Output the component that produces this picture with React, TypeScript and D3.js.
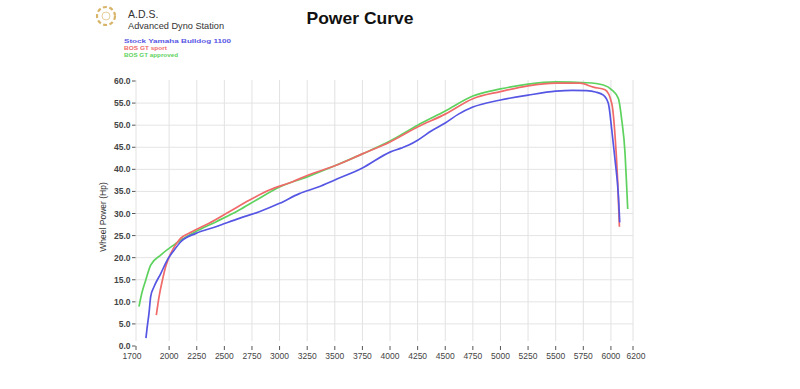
import React from "react";
import * as d3 from "d3";

const xTicks = [1700, 2000, 2250, 2500, 2750, 3000, 3250, 3500, 3750, 4000, 4250, 4500, 4750, 5000, 5250, 5500, 5750, 6000, 6200];
const yTicks = [0, 5, 10, 15, 20, 25, 30, 35, 40, 45, 50, 55, 60];

const seriesNames = ["Stock Yamaha Bulldog 1100", "BOS GT sport", "BOS GT approved"];
const seriesColors = ["#5656e4", "#f06a6a", "#5ed25e"];

const stockRpm = [1790, 1800, 1818, 1833, 1863, 1924, 1984, 2045, 2106, 2242, 2423, 2635, 2816, 3000, 3179, 3350, 3500, 3750, 4000, 4100, 4170, 4250, 4380, 4500, 4620, 4750, 5000, 5250, 5500, 5650, 5780, 5860, 5932, 5977, 6008, 6038, 6068, 6080];
const stockHp = [1.8, 4.0, 7.5, 11.2, 13.4, 16.4, 19.5, 21.7, 23.6, 25.5, 27.0, 28.9, 30.4, 32.3, 34.5, 36.0, 37.6, 40.3, 43.9, 44.8, 45.5, 46.6, 48.8, 50.5, 52.5, 54.1, 55.7, 56.8, 57.7, 57.9, 57.8, 57.5, 56.8, 54.9, 48.9, 42.0, 34.0, 28.0];

const sportRpm = [1884, 1909, 1939, 1969, 2015, 2090, 2211, 2362, 2544, 2725, 2907, 3118, 3250, 3500, 3750, 4000, 4250, 4500, 4750, 5000, 5250, 5500, 5720, 5841, 5947, 6008, 6038, 6060, 6077];
const sportHp = [7.0, 11.2, 14.9, 18.0, 21.0, 24.0, 25.9, 27.8, 30.4, 33.0, 35.3, 37.2, 38.6, 40.8, 43.5, 46.2, 49.6, 52.5, 56.0, 57.6, 58.9, 59.5, 59.5, 58.6, 58.0, 54.9, 47.4, 38.0, 27.0];

const approvedRpm = [1727, 1752, 1788, 1833, 1924, 2060, 2242, 2423, 2635, 2786, 3000, 3250, 3500, 3750, 4000, 4250, 4500, 4750, 5000, 5250, 5500, 5781, 5932, 6008, 6068, 6098, 6128, 6143, 6152];
const approvedHp = [8.9, 11.9, 14.9, 18.3, 20.6, 23.2, 25.9, 28.1, 30.8, 33.0, 36.0, 38.3, 40.8, 43.5, 46.4, 50.0, 53.2, 56.6, 58.2, 59.3, 59.8, 59.6, 59.1, 58.0, 56.0, 51.2, 43.6, 36.0, 31.0];

const seriesRpm = [stockRpm, sportRpm, approvedRpm];
const seriesHp = [stockHp, sportHp, approvedHp];

export default function App() {
  const W = 800, H = 389;
  const x = d3.scaleLinear().domain([1700, 6200]).range([136, 633]);
  const y = d3.scaleLinear().domain([0, 60]).range([346, 81]);
  const line = d3
    .line<[number, number]>()
    .x((d) => x(d[0]))
    .y((d) => y(d[1]))
    .curve(d3.curveMonotoneX);

  const font = "'Liberation Sans', Arial, sans-serif";
  const drawOrder = [2, 1, 0];

  return (
    <svg width={W} height={H} style={{ position: "absolute", left: 0, top: 0, background: "#fff" }} fontFamily={font}>
      <rect x={0} y={0} width={W} height={H} fill="#fff" />
      {/* logo */}
      <circle cx={106} cy={16} r={9} fill="none" stroke="#d8b468" strokeWidth={2.2} strokeDasharray="4 2.5" />
      <circle cx={106} cy={16} r={4} fill="none" stroke="#e6cf9a" strokeWidth={1} />
      <text x={128} y={18} fontSize={10.5} fill="#333">A.D.S.</text>
      <text x={128} y={28.5} fontSize={9.6} fill="#333" textLength={96} lengthAdjust="spacingAndGlyphs">Advanced Dyno Station</text>
      <text x={360} y={24} fontSize={17} fontWeight="900" textAnchor="middle" fill="#111" textLength={107} lengthAdjust="spacingAndGlyphs">Power Curve</text>
      {seriesNames.map((n, i) => (
        <text key={n} x={124} y={43 + i * 7.2} fontSize={6.1} fontWeight="bold" fill={seriesColors[i]}
          textLength={i === 0 ? 107 : i === 1 ? 43 : 54} lengthAdjust="spacingAndGlyphs">{n}</text>
      ))}

      {/* grid */}
      {yTicks.filter((t) => t > 0 && t < 60).map((t) => (
        <line key={"hy" + t} x1={x(1700)} x2={x(6200)} y1={y(t)} y2={y(t)} stroke="#e4e4e4" strokeWidth={1} />
      ))}
      {xTicks.map((t) => (
        <line key={"gx" + t} x1={x(t)} x2={x(t)} y1={80} y2={341} stroke="#e2e2e2" strokeWidth={1} />
      ))}

      {/* y axis ticks & labels */}
      {yTicks.map((t) => (
        <g key={"yt" + t}>
          <line x1={132} x2={135.5} y1={y(t)} y2={y(t)} stroke="#555" strokeWidth={1} />
          <text x={130.5} y={y(t) + 3} fontSize={8.5} textAnchor="end" fill="#444" fontWeight="bold">{t.toFixed(1)}</text>
        </g>
      ))}
      <text transform={`translate(106,217) rotate(-90)`} fontSize={8.5} textAnchor="middle" fill="#333">Wheel Power (Hp)</text>

      {/* x axis ticks & labels */}
      {xTicks.map((t) => (
        <g key={"xt" + t}>
          <line x1={x(t)} x2={x(t)} y1={346} y2={350} stroke="#555" strokeWidth={1} />
          <text x={x(t) + (t === 1700 ? -4 : t === 6200 ? 3 : 0)} y={358.5} fontSize={8.5} textAnchor="middle" fill="#444">{t}</text>
        </g>
      ))}

      {/* series */}
      {drawOrder.map((i) => (
        <path key={"s" + i} d={line(seriesRpm[i].map((r, k) => [r, seriesHp[i][k]] as [number, number])) || ""}
          fill="none" stroke={seriesColors[i]} strokeWidth={1.7} strokeLinejoin="round" />
      ))}
    </svg>
  );
}
